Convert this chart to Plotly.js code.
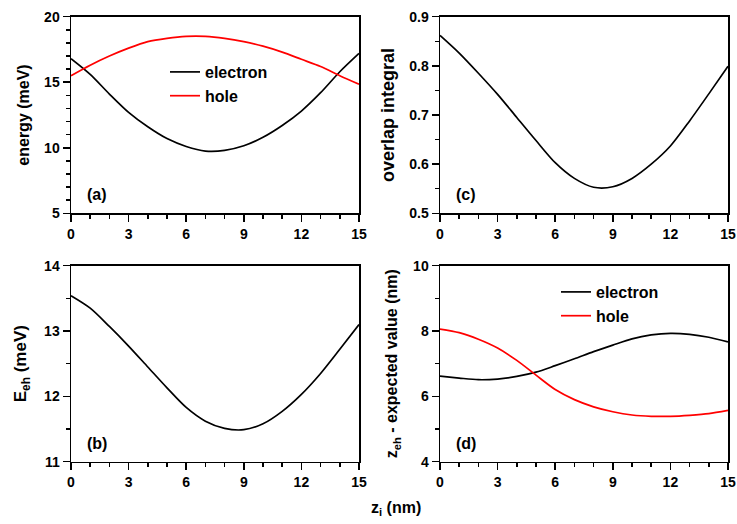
<!DOCTYPE html>
<html>
<head>
<meta charset="utf-8">
<script src="https://cdn.plot.ly/plotly-3.0.1.min.js"></script>
<style>html,body{margin:0;padding:0;background:#fff}#chart{width:737px;height:524px}</style>
</head>
<body>
<div id="chart"></div>
<script>
// position z_i (nm)
const zi = [0,1,2,3,4,5,6,7,8,9,10,11,12,13,14,15];
// (a) energy (meV)
const energyElectron = [16.8,15.6,14.1,12.7,11.6,10.7,10.1,9.75,9.8,10.15,10.8,11.7,12.8,14.2,15.8,17.2];
const energyHole = [15.5,16.3,17.0,17.6,18.1,18.35,18.5,18.5,18.35,18.1,17.75,17.3,16.75,16.2,15.5,14.85];
// (b) E_eh (meV)
const eEh = [13.54,13.35,13.07,12.77,12.45,12.13,11.83,11.62,11.51,11.49,11.58,11.77,12.03,12.35,12.72,13.10];
// (c) overlap integral
const overlap = [0.862,0.826,0.785,0.742,0.695,0.648,0.603,0.571,0.553,0.554,0.571,0.600,0.637,0.688,0.743,0.799];
// (d) z_eh expected value (nm)
const zElectron = [6.62,6.56,6.51,6.53,6.61,6.74,6.94,7.15,7.37,7.57,7.76,7.88,7.93,7.90,7.81,7.67];
const zHole = [8.06,7.95,7.75,7.48,7.10,6.65,6.21,5.90,5.68,5.53,5.43,5.39,5.39,5.42,5.47,5.57];

const W = 737, H = 524;
const FONT = 'Liberation Sans, Arial, sans-serif';
const lineW = 1.7;

function ln(color){ return {color: color, width: lineW, shape: 'spline', smoothing: 0.8}; }

const traces = [
  {x: zi, y: energyElectron, xaxis:'x', yaxis:'y', mode:'lines', name:'electron', line: ln('#000000'), legend:'legend'},
  {x: zi, y: energyHole, xaxis:'x', yaxis:'y', mode:'lines', name:'hole', line: ln('#ff0000'), legend:'legend'},
  {x: zi, y: eEh, xaxis:'x2', yaxis:'y2', mode:'lines', name:'Eeh', line: ln('#000000'), showlegend:false},
  {x: zi, y: overlap, xaxis:'x3', yaxis:'y3', mode:'lines', name:'overlap', line: ln('#000000'), showlegend:false},
  {x: zi, y: zElectron, xaxis:'x4', yaxis:'y4', mode:'lines', name:'electron', line: ln('#000000'), legend:'legend2'},
  {x: zi, y: zHole, xaxis:'x4', yaxis:'y4', mode:'lines', name:'hole', line: ln('#ff0000'), legend:'legend2'}
];

const tickFont = {family: FONT, size: 14, color: '#000', weight: 'bold'};
function tf(size){ return {family: FONT, size: size, color: '#000', weight: 'bold'}; }

function xax(domain, anchor){
  return {
    domain: domain, anchor: anchor, range: [0, 15], dtick: 3, tick0: 0,
    showgrid: false, zeroline: false, showline: true, linecolor: '#000', linewidth: 1.5, mirror: true,
    ticks: 'outside', ticklen: 7, tickwidth: 1.5, tickcolor: '#000', tickfont: tickFont,
    minor: {dtick: 1, ticks: 'outside', ticklen: 4, tickwidth: 1.5, tickcolor: '#000', showgrid: false},
    automargin: false
  };
}
function yax(domain, anchor, range, dtick, minorDtick, title, tsize){
  return {
    domain: domain, anchor: anchor, range: range, dtick: dtick, tick0: range[0],
    showgrid: false, zeroline: false, showline: true, linecolor: '#000', linewidth: 1.5, mirror: true,
    ticks: 'outside', ticklen: 7, tickwidth: 1.5, tickcolor: '#000', tickfont: tickFont,
    minor: {dtick: minorDtick, ticks: 'outside', ticklen: 4, tickwidth: 1.5, tickcolor: '#000', showgrid: false},
    title: {text: title, font: tf(tsize)},
    automargin: false
  };
}

const xL = [71/W, 359/W], xR = [440/W, 728/W];
const yT = [1-213.3/H, 1-16.7/H], yB = [1-461.7/H, 1-265.7/H];

function lab(t, xr, yr){
  return {text: t, xref: xr+' domain', yref: yr+' domain', x: 0.09, y: 0.095,
          xanchor: 'center', yanchor: 'middle', showarrow: false, font: tf(16)};
}

const layout = {
  width: W, height: H,
  margin: {l:0, r:0, t:0, b:0},
  paper_bgcolor: '#fff', plot_bgcolor: '#fff',
  font: {family: FONT, color: '#000'},
  xaxis: xax(xL, 'y'),
  yaxis: yax(yT, 'x', [5, 20], 5, 1, 'energy (meV)', 16),
  xaxis2: xax(xL, 'y2'),
  yaxis2: yax(yB, 'x2', [11, 14], 1, 0.5, 'E<sub>eh</sub> (meV)', 17),
  xaxis3: xax(xR, 'y3'),
  yaxis3: yax(yT, 'x3', [0.5, 0.9], 0.1, 0.05, 'overlap integral', 18),
  xaxis4: xax(xR, 'y4'),
  yaxis4: yax(yB, 'x4', [4, 10], 2, 1, 'z<sub>eh</sub> - expected value (nm)', 16),
  legend: {x: 165/W, y: 1-55/H, xanchor:'left', yanchor:'top', bgcolor:'rgba(0,0,0,0)',
           font: tf(16), tracegroupgap: 0},
  legend2: {x: 556/W, y: 1-275/H, xanchor:'left', yanchor:'top', bgcolor:'rgba(0,0,0,0)',
           font: tf(16), tracegroupgap: 0},
  annotations: [
    lab('(a)', 'x', 'y'),
    lab('(b)', 'x2', 'y2'),
    lab('(c)', 'x3', 'y3'),
    lab('(d)', 'x4', 'y4'),
    {text:'z<sub>i</sub> (nm)', xref:'paper', yref:'paper', x:396/W, y:1-508/H,
     xanchor:'center', yanchor:'middle', showarrow:false, font: tf(16)}
  ],
  showlegend: true
};

Plotly.newPlot('chart', traces, layout, {displayModeBar: false, staticPlot: true});
</script>
</body>
</html>
